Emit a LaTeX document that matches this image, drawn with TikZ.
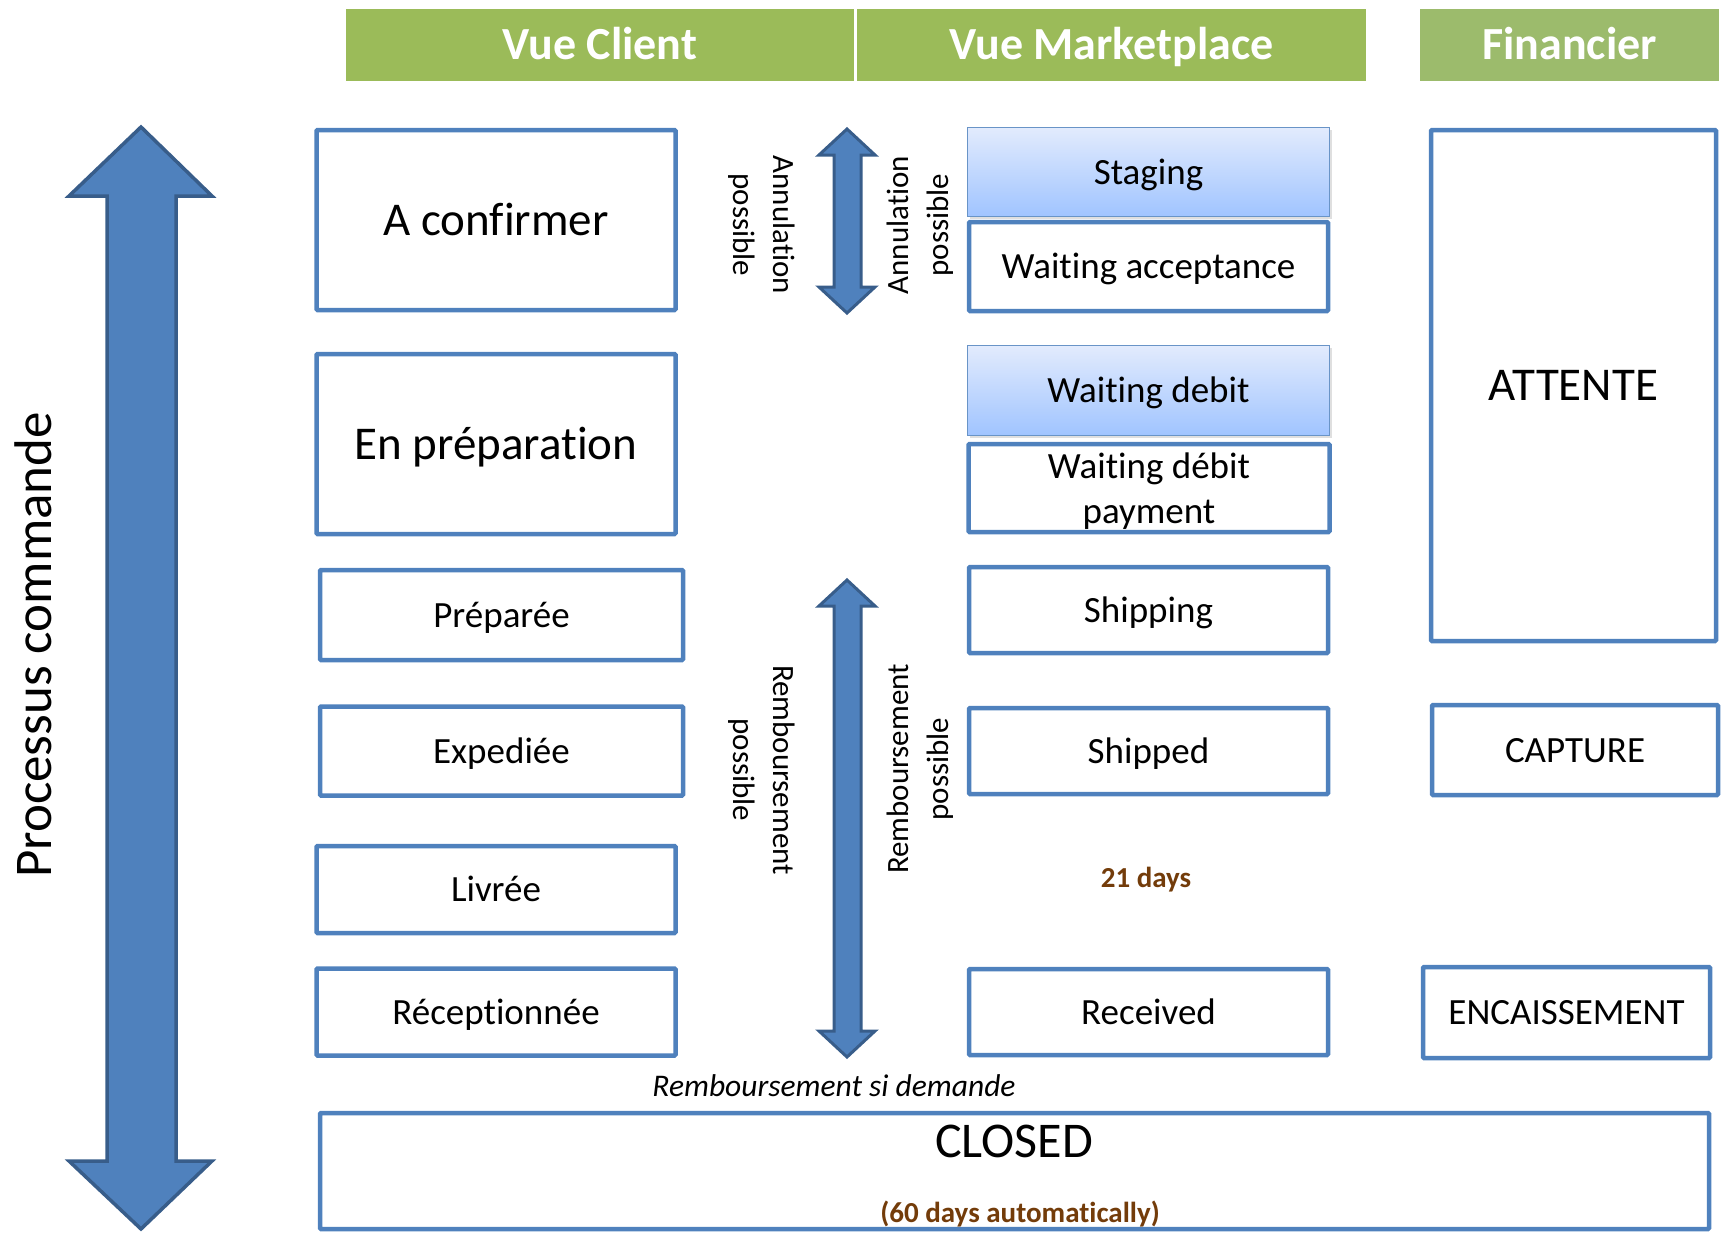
\documentclass[tikz,border=0pt]{standalone}
\usepackage{fontspec}
\setmainfont{Carlito}[Ligatures=NoCommon]
\usetikzlibrary{shadows}
\definecolor{ofblue}{RGB}{79,129,189}
\definecolor{ofdark}{RGB}{56,93,138}
\definecolor{ofgreen}{RGB}{155,187,89}
\definecolor{ofgreenb}{RGB}{156,187,108}
\definecolor{oflight}{RGB}{226,235,253}
\definecolor{ofsky}{RGB}{160,196,255}
\definecolor{ofbrown}{RGB}{115,60,10}

\begin{document}
\begin{tikzpicture}[x=1pt, y=-1pt,
    statebox/.style={draw=ofblue, line width=4.5pt, fill=white, rounded corners=1pt, inner sep=0pt, align=center, text height=29.6pt, text depth=5.5pt, font=\fontsize{37}{44}\selectfont},
    bigbox/.style={statebox, text height=37.6pt, text depth=7pt, font=\fontsize{47}{56}\selectfont},
    stagebox/.style={draw=ofblue!85, line width=1.5pt, top color=oflight, bottom color=ofsky, inner sep=0pt, text height=29.6pt, text depth=5.5pt, font=\fontsize{37}{44}\selectfont, drop shadow={opacity=0.25, shadow xshift=2pt, shadow yshift=-2pt}},
    header/.style={fill=ofgreen, text=white, inner sep=0pt, text height=36.8pt, text depth=6.9pt, font=\fontsize{46}{54}\selectfont\bfseries},
    sidenote/.style={align=center, inner sep=0pt, font=\fontsize{31}{40}\selectfont},
    daysnote/.style={text=ofbrown, inner sep=0pt, text height=23.2pt, text depth=4.4pt, font=\fontsize{29}{34}\selectfont\bfseries},
    blockarrow/.style={fill=ofblue, draw=ofdark, line width=3.5pt, line join=miter}]
    \useasboundingbox (0,0) rectangle (1721,1232);

    % column headers
    \node[header, minimum width=508pt, minimum height=72pt] (vueclient) at (600,45) {Vue Client};
    \node[header, minimum width=509pt, minimum height=72pt] (vuemarket) at (1111.5,45) {Vue Marketplace};
    \node[header, fill=ofgreenb, minimum width=299pt, minimum height=72pt] (financier) at (1569.5,45) {Financier};

    % process arrow
    \draw[blockarrow] (141,127) -- (212,196) -- (176,196) -- (176,1161) -- (212,1161) -- (141,1229)
        -- (69,1161) -- (107,1161) -- (107,196) -- (69,196) -- cycle;
    \node[rotate=90, inner sep=0pt, font=\fontsize{53}{60}\selectfont] (processus) at (33,645) {Processus commande};

    % client view
    \node[bigbox, minimum width=359pt, minimum height=180pt] (aconfirmer) at (496,220) {A confirmer};
    \node[bigbox, minimum width=359pt, minimum height=180pt] (enprep) at (496,444) {En préparation};
    \node[statebox, minimum width=363pt, minimum height=90pt] (preparee) at (501.5,615) {Préparée};
    \node[statebox, minimum width=363pt, minimum height=89pt] (expediee) at (501.5,751) {Expediée};
    \node[statebox, minimum width=359pt, minimum height=87pt] (livree) at (496,889.5) {Livrée};
    \node[statebox, minimum width=359pt, minimum height=87pt] (receptionnee) at (496,1012) {Réceptionnée};

    % cancel / refund arrows
    \draw[blockarrow, line width=3pt] (847,129) -- (875,155) -- (861,155) -- (861,287) -- (875,287) -- (847,313)
        -- (819,287) -- (834,287) -- (834,155) -- (819,155) -- cycle;
    \draw[blockarrow, line width=3pt] (847,580) -- (875,606) -- (861,606) -- (861,1031) -- (875,1031) -- (847,1057)
        -- (819,1031) -- (834,1031) -- (834,606) -- (819,606) -- cycle;
    \node[sidenote, rotate=-90] (annulclient) at (762,225) {Annulation\\possible};
    \node[sidenote, rotate=90] (annulmarket) at (920,225) {Annulation\\possible};
    \node[sidenote, rotate=-90] (rembclient) at (762,770) {Remboursement\\possible};
    \node[sidenote, rotate=90] (rembmarket) at (920,769) {Remboursement\\possible};

    % marketplace view
    \node[stagebox, minimum width=362pt, minimum height=89pt] (staging) at (1148.5,172) {Staging};
    \node[statebox, minimum width=359pt, minimum height=89pt] (waitaccept) at (1148.5,266.5) {Waiting acceptance};
    \node[stagebox, minimum width=362pt, minimum height=90pt] (waitdebit) at (1148.5,390.5) {Waiting debit};
    \node[statebox, minimum width=361pt, minimum height=88pt] (waitpayment) at (1149,488) {};
    \node[align=center, inner sep=0pt, font=\fontsize{37}{45}\selectfont] (waitpaymentlabel) at (1149,491) {Waiting débit\\payment};
    \node[statebox, minimum width=359pt, minimum height=86pt] (shipping) at (1148.5,610) {Shipping};
    \node[statebox, minimum width=359pt, minimum height=86pt] (shipped) at (1148.5,751) {Shipped};
    \node[daysnote] (twentyone) at (1146,878) {21 days};
    \node[statebox, minimum width=359pt, minimum height=86pt] (received) at (1148.5,1012) {Received};

    % financial view
    \node[bigbox, minimum width=285pt, minimum height=511pt] (attente) at (1573.5,385.5) {ATTENTE};
    \node[statebox, minimum width=286pt, minimum height=90pt] (capture) at (1575,750) {CAPTURE};
    \node[statebox, minimum width=287pt, minimum height=91pt] (encaissement) at (1566.5,1012.5) {ENCAISSEMENT};

    % closing
    \node[inner sep=0pt, font=\fontsize{31.5}{36}\selectfont\itshape] (rembdemande) at (834,1086) {Remboursement si demande};
    \node[statebox, minimum width=1389pt, minimum height=116pt] (closed) at (1014.5,1171) {};
    \node[inner sep=0pt, text height=40pt, text depth=7.5pt, font=\fontsize{50}{58}\selectfont] (closedlabel) at (1014,1141) {CLOSED};
    \node[daysnote] (sixtydays) at (1020,1213) {(60 days automatically)};
\end{tikzpicture}
\end{document}
